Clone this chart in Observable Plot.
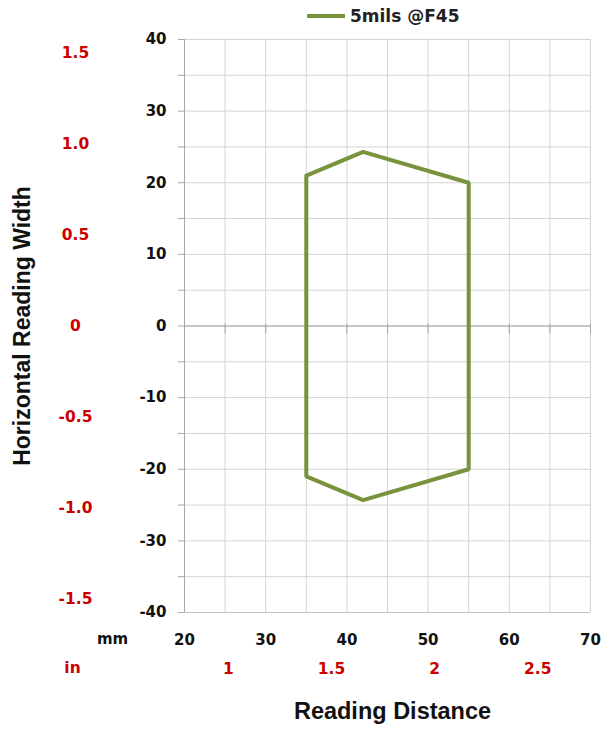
<!DOCTYPE html>
<html>
<head>
<meta charset="utf-8">
<script src="https://cdn.jsdelivr.net/npm/d3@7"></script>
<script src="https://cdn.jsdelivr.net/npm/@observablehq/plot@0.6"></script>
<style>
  html, body { margin: 0; padding: 0; background: #fff; }
  #wrap { position: relative; width: 604px; height: 729px; }
  #legend { position: absolute; left: 307px; top: 6px; display: flex; align-items: center;
    font-family: "DejaVu Sans", sans-serif; font-weight: bold; font-size: 17px; color: #222; }
  #legend svg { margin-right: 5px; }
</style>
</head>
<body>
<div id="wrap"><div id="legend"></div></div>
<script>
const seriesName = "5mils @F45";
const distanceMm = [35, 42, 55, 55, 42, 35, 35];
const widthMm = [21, 24.3, 20, -20, -24.3, -21, 21];
const xTicks = [20, 30, 40, 50, 60, 70];
const yTicks = [-40, -30, -20, -10, 0, 10, 20, 30, 40];
const inchY = [1.5, 1.0, 0.5, 0, -0.5, -1.0, -1.5];
const inchYLabels = ["1.5", "1.0", "0.5", "0", "-0.5", "-1.0", "-1.5"];
const inchX = [1, 1.5, 2, 2.5];
const inchXLabels = ["1", "1.5", "2", "2.5"];

const green = "#77933c";
const red = "#cc0000";
const font = "DejaVu Sans, sans-serif";

const pts = distanceMm.map((x, i) => ({x, y: widthMm[i]}));

const chart = Plot.plot({
  width: 604,
  height: 729,
  marginLeft: 184,
  marginRight: 14,
  marginTop: 39,
  marginBottom: 117,
  style: {fontFamily: font, background: "#fff"},
  x: {domain: [20, 70], axis: null},
  y: {domain: [-40, 40], axis: null},
  marks: [
    Plot.gridX(d3.range(20, 71, 5), {stroke: "#d4d4d4", strokeOpacity: 1}),
    Plot.gridY(d3.range(-40, 41, 5), {stroke: "#d4d4d4", strokeOpacity: 1}),
    Plot.ruleY([-40], {stroke: "#c4c4c4"}),
    Plot.ruleX([20], {stroke: "#a6a6a6"}),
    Plot.ruleY([0], {stroke: "#a6a6a6"}),
    Plot.ruleX(d3.range(20, 71, 5), {x: d => d, y1: -1.1, y2: 0.3, stroke: "#a6a6a6"}),
    Plot.axisY(d3.range(-40, 41, 5), {
      anchor: "left", tickSize: 6, tickPadding: 12, stroke: "#a6a6a6", fill: "#111",
      tickFormat: d => (d % 10 === 0 ? String(d) : ""),
      fontSize: 15, fontWeight: "bold", label: null
    }),
    Plot.axisX(xTicks, {
      anchor: "bottom", tickSize: 0, tickPadding: 22, fill: "#111",
      fontSize: 15, fontWeight: "bold", label: null
    }),
    Plot.text(inchY, {
      y: d => d * 25.4, text: (d, i) => inchYLabels[i], frameAnchor: "left", dx: -109,
      textAnchor: "middle", fill: red, fontSize: 15.5, fontWeight: "bold"
    }),
    Plot.text(inchX, {
      x: d => d * 25.4, text: (d, i) => inchXLabels[i], frameAnchor: "bottom", dy: 61,
      textAnchor: "middle", fill: red, fontSize: 15.5, fontWeight: "bold"
    }),
    Plot.text(["mm"], {frameAnchor: "bottom-left", textAnchor: "middle", dx: -72, dy: 31, fill: "#111", fontSize: 15, fontWeight: "bold"}),
    Plot.text(["in"], {frameAnchor: "bottom-left", textAnchor: "middle", dx: -112, dy: 60, fill: red, fontSize: 15.5, fontWeight: "bold"}),
    Plot.text(["Horizontal Reading Width"], {
      frameAnchor: "left", textAnchor: "middle", dx: -162, rotate: -90, fill: "#111",
      fontFamily: "Liberation Sans, Arial, sans-serif", fontSize: 23, fontWeight: "bold"
    }),
    Plot.text(["Reading Distance"], {
      frameAnchor: "bottom", textAnchor: "middle", dx: 5, dy: 106, fill: "#111",
      fontFamily: "Liberation Sans, Arial, sans-serif", fontSize: 23.5, fontWeight: "bold"
    }),
    Plot.line(pts, {x: "x", y: "y", stroke: green, strokeWidth: 4, strokeLinejoin: "miter", curve: "linear"})
  ]
});

document.getElementById("wrap").prepend(chart);
const lg = document.getElementById("legend");
lg.innerHTML = `<svg width="38" height="10"><line x1="0" x2="38" y1="5" y2="5" stroke="${green}" stroke-width="4"/></svg><span>${seriesName}</span>`;
</script>
</body>
</html>
